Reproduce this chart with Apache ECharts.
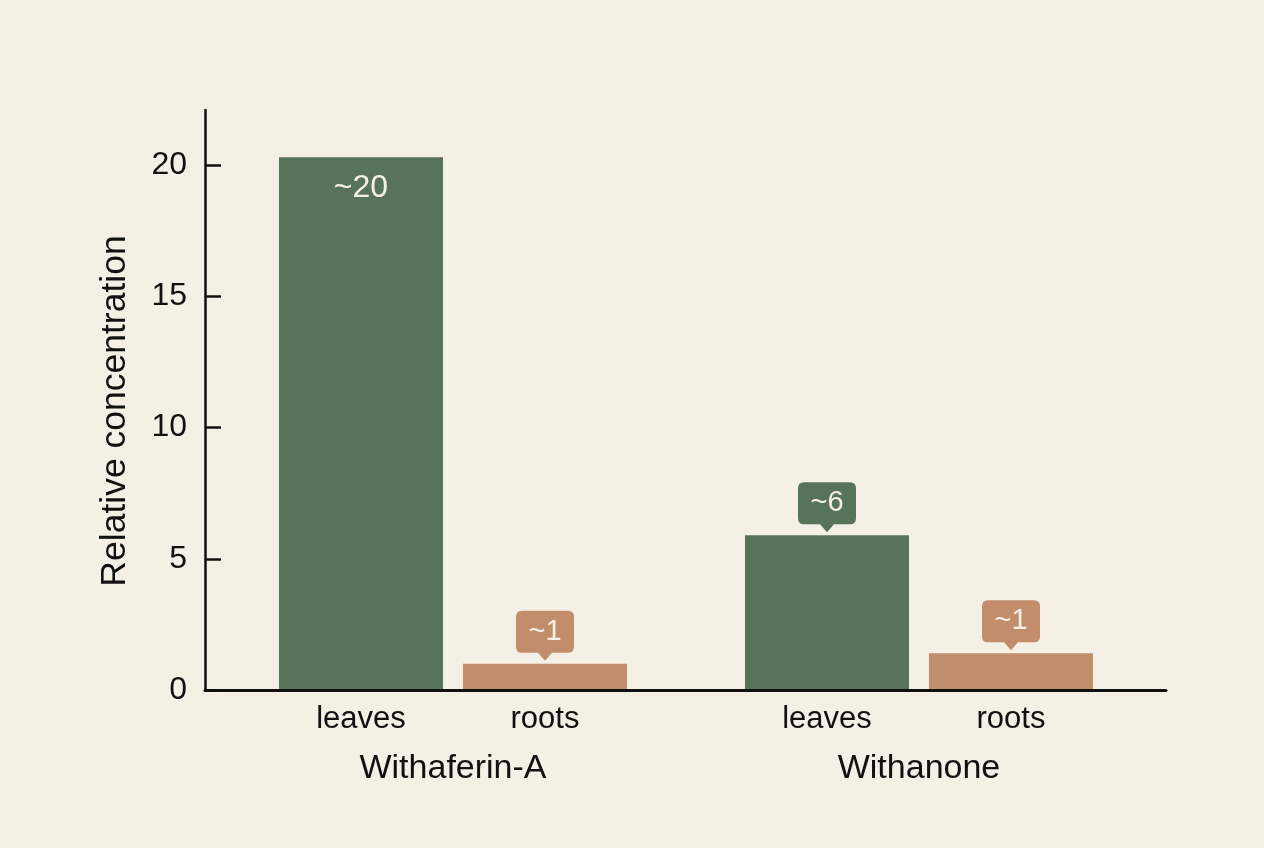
<!DOCTYPE html>
<html>
<head>
<meta charset="utf-8">
<script src="https://cdn.jsdelivr.net/npm/echarts@6/dist/echarts.min.js"></script>
<style>
html,body{margin:0;padding:0;background:#f4f0e5;}
#chart{width:1264px;height:848px;}
</style>
</head>
<body>
<div id="chart"></div>
<script>
const groups = ['Withaferin-A', 'Withanone'];
const seriesNames = ['leaves', 'roots'];
const leavesValues = [20.3, 5.9];
const rootsValues = [1.0, 1.4];
const leavesTags = ['~20', '~6'];
const rootsTags = ['~1', '~1'];
const yTicks = [0, 5, 10, 15, 20];
const yTitle = 'Relative concentration';

const GREEN = '#57735a';
const TAN = '#c18d6b';
const INK = '#111111';
const FONT = 'Liberation Sans, Arial, sans-serif';
const CALLOUT = 'path://M6,0 H52 Q58,0 58,6 V36 Q58,42 52,42 H36 L29,50 L22,42 H6 Q0,42 0,36 V6 Q0,0 6,0 Z';

function markData(values, tags, color) {
  return values.map(function (v, i) {
    const inside = v > 10;
    if (inside) {
      return {
        name: tags[i], coord: [groups[i], v],
        symbol: 'rect', symbolSize: 2, symbolOffset: [0, 31],
        itemStyle: { color: 'rgba(0,0,0,0)' },
        label: { show: true, position: 'inside', formatter: '{b}', color: '#f4f0e5', fontSize: 32, fontFamily: FONT }
      };
    }
    return {
      name: tags[i], coord: [groups[i], v],
      symbol: CALLOUT, symbolSize: [58, 50], symbolOffset: [0, -28],
      itemStyle: { color: color },
      label: { show: true, position: 'inside', offset: [0, -4], formatter: '{b}', color: '#f4f0e5', fontSize: 29, fontFamily: FONT }
    };
  });
}

function barSeries(name, values, tags, color) {
  return {
    name: name, type: 'bar', xAxisIndex: 1, yAxisIndex: 1,
    data: values, barWidth: 164, barGap: '12.2%',
    itemStyle: { color: color },
    label: { show: true, position: 'bottom', distance: 14, formatter: '{a}', color: INK, fontSize: 31, fontFamily: FONT },
    markPoint: { data: markData(values, tags, color), animation: false }
  };
}

const chart = echarts.init(document.getElementById('chart'));
chart.setOption({
  backgroundColor: '#f4f0e5',
  animation: false,
  textStyle: { fontFamily: FONT },
  grid: [
    { left: 205, right: 98, top: 110, bottom: 158 },
    { left: 220, right: 112, top: 110, bottom: 158 }
  ],
  xAxis: [
    { gridIndex: 0, type: 'value', min: 0, max: 1, z: 10,
      axisLine: { show: true, onZero: false, lineStyle: { color: INK, width: 3 } },
      axisTick: { show: false }, axisLabel: { show: false }, splitLine: { show: false } },
    { gridIndex: 1, type: 'category', data: groups,
      axisLine: { show: false }, axisTick: { show: false },
      axisLabel: { margin: 62, color: INK, fontSize: 34, fontFamily: FONT } }
  ],
  yAxis: [
    { gridIndex: 0, type: 'value', min: 0, max: 22.1, interval: 5, z: 10,
      name: yTitle, nameLocation: 'middle', nameGap: 72,
      nameTextStyle: { color: INK, fontSize: 35.5, fontFamily: FONT, padding: [0, 22, 0, 0] },
      axisLine: { show: true, lineStyle: { color: INK, width: 2.5 } },
      axisTick: { show: true, inside: true, length: 16, customValues: yTicks, lineStyle: { color: INK, width: 2.5 } },
      axisLabel: { margin: 18, color: INK, fontSize: 32, fontFamily: FONT, customValues: yTicks },
      splitLine: { show: false } },
    { gridIndex: 1, type: 'value', min: 0, max: 22.1, show: false, splitLine: { show: false } }
  ],
  series: [
    barSeries(seriesNames[0], leavesValues, leavesTags, GREEN),
    barSeries(seriesNames[1], rootsValues, rootsTags, TAN)
  ]
});
</script>
</body>
</html>
